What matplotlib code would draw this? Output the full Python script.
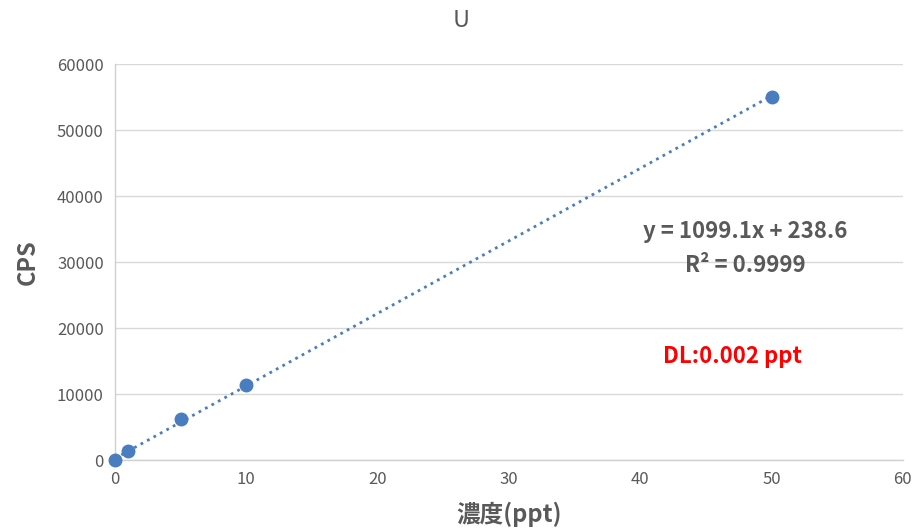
import numpy as np
from matplotlib import pyplot as plt

# data
conc = [0, 1, 5, 10, 50]
cps = [0, 1300, 6200, 11400, 55000]
slope = 1099.1
intercept = 238.6
r2 = 0.9999
dl_text = "DL:0.002 ppt"

plt.rcParams['font.family'] = ['Noto Sans CJK JP', 'DejaVu Sans']

fig = plt.figure(figsize=(9.19, 5.30), dpi=100)
ax = fig.add_axes([0.125, 0.132, 0.8575, 0.747])

gray = '#595959'
blue = '#4a7dbf'

# trendline
xt = np.array([0, 50])
ax.plot(xt, slope * xt + intercept, ':', color=blue, lw=2, zorder=2)
ax.plot(conc, cps, 'o', color=blue, ms=9, zorder=3, clip_on=False)

ax.set_xlim(0, 60)
ax.set_ylim(0, 60000)
ax.set_xticks(range(0, 61, 10))
ax.set_yticks(range(0, 60001, 10000))
ax.grid(axis='y', color='#d9d9d9', lw=1)
ax.set_axisbelow(True)
for s in ['top', 'right']:
    ax.spines[s].set_visible(False)
for s in ['left', 'bottom']:
    ax.spines[s].set_color('#d0d0d0')
    ax.spines[s].set_linewidth(1)
ax.tick_params(length=0, labelsize=12, colors=gray, pad=8)

ax.set_xlabel("濃度(ppt)", fontsize=17, fontweight='bold', color=gray, labelpad=10)
ax.set_ylabel("CPS", fontsize=17, fontweight='bold', color=gray, labelpad=12)
fig.text(0.502, 0.962, "U", fontsize=17, color=gray, ha='center', va='center')

ax.text(0.80, 0.535, "y = 1099.1x + 238.6\nR² = 0.9999", transform=ax.transAxes,
        ha='center', va='center', fontsize=16, fontweight='bold', color=gray, linespacing=1.6)
ax.text(0.784, 0.262, dl_text, transform=ax.transAxes, ha='center', va='center',
        fontsize=16, fontweight='bold', color='red')

plt.savefig("out.png", dpi=100)
